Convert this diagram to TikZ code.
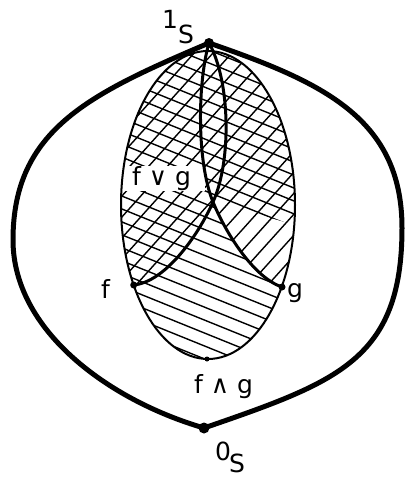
\documentclass[tikz,border=0pt]{standalone}
\usepackage{fontspec}
\setmainfont{DejaVu Sans}
\begin{document}
\begin{tikzpicture}[x=1pt,y=-1pt,
  outer/.style={line width=5pt, line join=round, line cap=round},
  ell/.style={line width=2pt},
  arcline/.style={line width=3pt, line cap=round},
  hatch/.style={line width=1.4pt},
  lbl/.style={font=\fontsize{25}{25}\selectfont, inner sep=0pt, anchor=base west},
  dot/.style={circle, fill=black, inner sep=0pt, minimum size=#1}]
\useasboundingbox (0,0) rectangle (408,477);
\coordinate (T) at (209,43);
\coordinate (B) at (204,428);
\coordinate (L) at (13,240);
\coordinate (R) at (402,228);
\coordinate (X) at (213,202);
\coordinate (F) at (133.7,285);
\coordinate (G) at (282,287);
\coordinate (M) at (207,359);
\coordinate (C) at (208,205);
% hatching
\begin{scope}
  \clip (C) ellipse [x radius=87pt, y radius=154pt];
  \foreach \s in {-156,-144,...,156} {
    \draw[hatch] ({208-0.375*\s-220*0.927},{205+0.927*\s-220*0.375}) -- ({208-0.375*\s+220*0.927},{205+0.927*\s+220*0.375});
  }
  \fill[white] (X) .. controls (227,236) and (255,278) .. (G) -- (320,287) -- (320,232) -- cycle;
  \clip (F) .. controls (165,282) and (198,236) .. (X) .. controls (227,236) and (255,278) .. (G) -- (320,287) -- (320,20) -- (90,20) -- (90,285) -- cycle;
  \foreach \s in {-140,-126,...,140} {
    \draw[hatch] ({208+0.743*\s-220*0.669},{205+0.669*\s+220*0.743}) -- ({208+0.743*\s+220*0.669},{205+0.669*\s-220*0.743});
  }
\end{scope}
% cleared band behind the f v g label
\fill[white] (118,166) rectangle (205,191);
\node[lbl] (lfvg) at (132,185) {f ∨ g};
% ellipse and arcs
\draw[ell] (C) ellipse [x radius=87pt, y radius=154pt];
\draw[arcline] (T) .. controls (230,80) and (232,160) .. (X) .. controls (198,236) and (165,282) .. (F);
\draw[arcline] (T) .. controls (198,80) and (196,160) .. (X) .. controls (227,236) and (255,278) .. (G);
% outer curve
\draw[outer] (T) .. controls (89,94) and (13,130) .. (L) .. controls (13,330) and (108,400) .. (B);
\draw[outer] (T) .. controls (322,82) and (402,118) .. (R) .. controls (402,360) and (337,382) .. (B);
% dots
\node[dot=10pt] (top) at (T) {};
\node[dot=11pt] (bot) at (B) {};
\node[dot=7pt] (fd) at (F) {};
\node[dot=7pt] (gd) at (G) {};
\node[dot=5pt] (md) at (M) {};
% labels
\node[lbl] (l1s) at (162,28) {1\raisebox{-15pt}{S}};
\node[lbl] (lf) at (101,298) {f};
\node[lbl] (lg) at (287,297) {g};
\node[lbl] (lfwg) at (194,393) {f ∧ g};
\node[lbl] (l0s) at (215,460) {0\kern-2pt\raisebox{-12pt}{S}};
\end{tikzpicture}
\end{document}
